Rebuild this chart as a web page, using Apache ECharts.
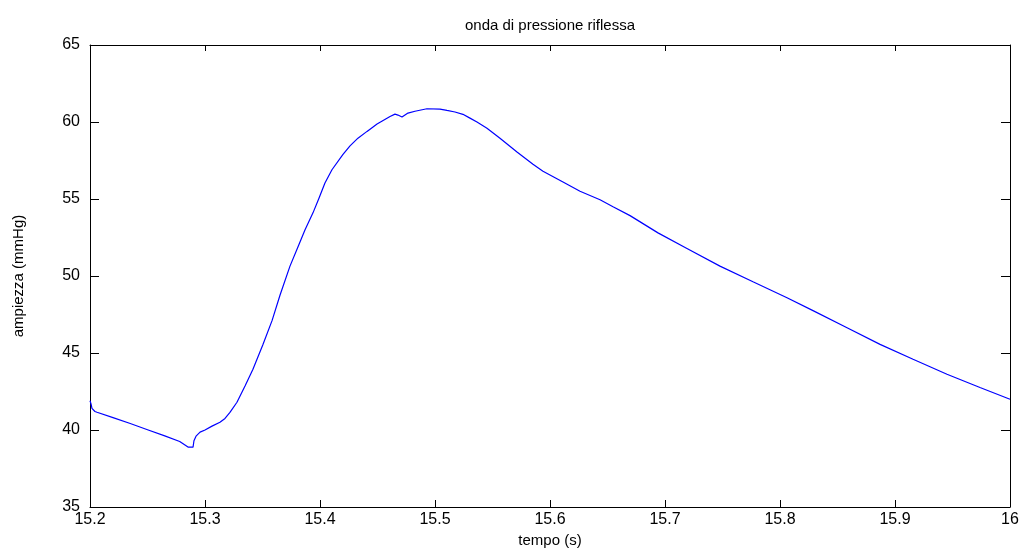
<!DOCTYPE html>
<html>
<head>
<meta charset="utf-8">
<script src="https://cdn.jsdelivr.net/npm/echarts@6/dist/echarts.min.js"></script>
<style>
  html, body { margin: 0; padding: 0; background: #fff; }
  #chart { width: 1026px; height: 553px; }
</style>
</head>
<body>
<div id="chart"></div>
<script>
// Reflected pressure wave: sample times (s) and amplitudes (mmHg)
const tempo = [
  15.2000, 15.2009, 15.2017, 15.2043, 15.2061, 15.2200, 15.2350, 15.2500,
  15.2650, 15.2780, 15.2852, 15.2896, 15.2904, 15.2922, 15.2957, 15.3000,
  15.3061, 15.3130, 15.3174, 15.3217, 15.3278, 15.3348, 15.3417, 15.3504,
  15.3583, 15.3652, 15.3739, 15.3809, 15.3870, 15.3939, 15.3991, 15.4043,
  15.4104, 15.4200, 15.4261, 15.4330, 15.4409, 15.4496, 15.4609, 15.4652,
  15.4678, 15.4713, 15.4765, 15.4826, 15.4930, 15.5043, 15.5104, 15.5174,
  15.5243, 15.5304, 15.5365, 15.5452, 15.5565, 15.5713, 15.5852, 15.5939,
  15.6113, 15.6261, 15.6435, 15.6548, 15.6696, 15.6939, 15.7191, 15.7478,
  15.7765, 15.8061, 15.8287, 15.8583, 15.8870, 15.9157, 15.9452, 15.9739,
  16.0000
];
const ampiezza = [
  41.90, 41.70, 41.40, 41.20, 41.15, 40.80, 40.42, 40.02,
  39.62, 39.25, 38.89, 38.89, 39.30, 39.60, 39.86, 40.00,
  40.25, 40.50, 40.75, 41.14, 41.80, 42.86, 43.94, 45.55,
  47.10, 48.75, 50.64, 51.90, 53.00, 54.10, 55.05, 56.04,
  56.90, 57.90, 58.45, 58.95, 59.39, 59.87, 60.36, 60.51,
  60.45, 60.32, 60.58, 60.70, 60.86, 60.84, 60.75, 60.65,
  60.50, 60.25, 60.00, 59.60, 58.95, 58.05, 57.25, 56.80,
  56.10, 55.50, 54.95, 54.50, 53.92, 52.80, 51.79, 50.64,
  49.63, 48.59, 47.75, 46.64, 45.56, 44.59, 43.62, 42.76,
  42.00
];
const xTicks = { min: 15.2, max: 16.0, step: 0.1 };
const yTicks = { min: 35, max: 65, step: 5 };

const titolo = 'onda di pressione riflessa';
const nomeX = 'tempo (s)';
const nomeY = 'ampiezza (mmHg)';

const font = 'Liberation Sans, Arial, Helvetica, sans-serif';
const ink = '#000';

function fmtX(v) {
  const r = Math.round(v * 10) / 10;
  return Number.isInteger(r) ? String(r) : r.toFixed(1);
}

const boxAxis = (extra) => Object.assign({
  axisLine: { show: true, onZero: false, lineStyle: { color: ink, width: 1 } },
  axisTick: { show: true, inside: true, lineStyle: { color: ink, width: 1 } },
  splitLine: { show: false },
}, extra);

const chart = echarts.init(document.getElementById('chart'), null, { renderer: 'canvas' });
chart.setOption({
  animation: false,
  backgroundColor: '#fff',
  title: {
    text: titolo,
    left: 545, top: 13, textAlign: 'center',
    textStyle: { fontFamily: font, fontSize: 15, fontWeight: 'normal', color: ink }
  },
  grid: { left: 90, right: 16, top: 45, bottom: 45 },
  xAxis: [
    boxAxis({
      type: 'value', position: 'bottom',
      min: xTicks.min, max: xTicks.max, interval: xTicks.step,
      axisTick: { show: true, inside: true, length: 7, lineStyle: { color: ink, width: 1 } },
      axisLabel: { formatter: fmtX, margin: 5, color: ink, fontFamily: font, fontSize: 16 },
      name: nomeX, nameLocation: 'middle', nameGap: 26,
      nameTextStyle: { fontFamily: font, fontSize: 15, color: ink }
    }),
    boxAxis({
      type: 'value', position: 'top',
      min: xTicks.min, max: xTicks.max, interval: xTicks.step,
      axisTick: { show: true, inside: true, length: 6, lineStyle: { color: ink, width: 1 } },
      axisLabel: { show: false }
    })
  ],
  yAxis: [
    boxAxis({
      type: 'value', position: 'left',
      min: yTicks.min, max: yTicks.max, interval: yTicks.step,
      axisTick: { show: true, inside: true, length: 9, lineStyle: { color: ink, width: 1 } },
      axisLabel: { margin: 10, color: ink, fontFamily: font, fontSize: 16 },
      name: nomeY, nameLocation: 'middle', nameGap: 64, nameRotate: 90,
      nameTextStyle: { fontFamily: font, fontSize: 15, color: ink }
    }),
    boxAxis({
      type: 'value', position: 'right',
      min: yTicks.min, max: yTicks.max, interval: yTicks.step,
      axisTick: { show: true, inside: true, length: 9, lineStyle: { color: ink, width: 1 } },
      axisLabel: { show: false }
    })
  ],
  series: [{
    type: 'line',
    xAxisIndex: 0, yAxisIndex: 0,
    data: tempo.map((t, i) => [t, ampiezza[i]]),
    showSymbol: false,
    smooth: false,
    lineStyle: { color: '#0000ff', width: 1.2 },
    clip: true
  }]
});
</script>
</body>
</html>
